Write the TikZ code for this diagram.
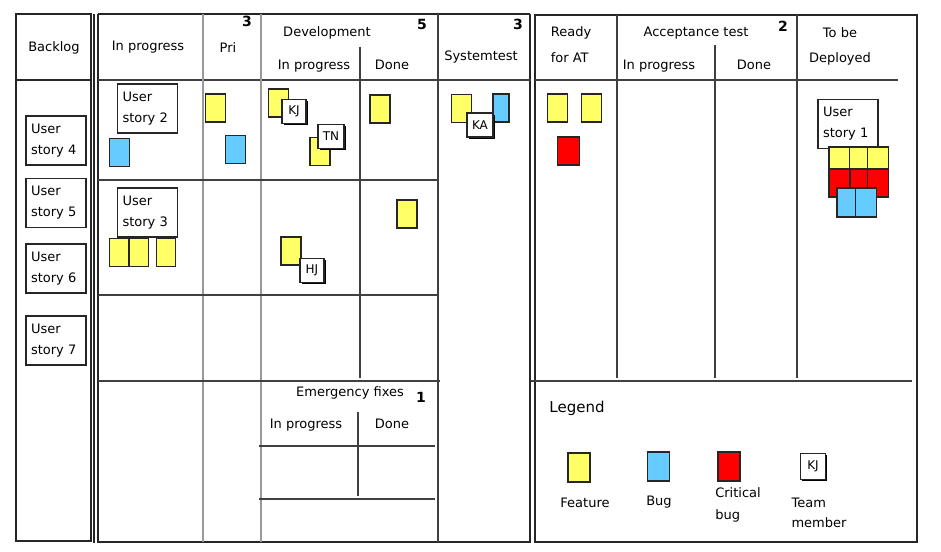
\documentclass[tikz,border=0pt]{standalone}
\usepackage{fontspec}
\setmainfont{DejaVu Sans}
\usetikzlibrary{shadows}
\definecolor{featyellow}{HTML}{FFFF66}
\definecolor{bugblue}{HTML}{66CCFF}
\definecolor{critred}{HTML}{FF0000}

\begin{document}
\begin{tikzpicture}[x=1pt,y=-1pt,
  frame/.style={line width=1.7pt,black!85},
  rule/.style={line width=1.3pt,black!75},
  lane/.style={line width=1.2pt,black!40},
  head/.style={font=\fontsize{13}{15}\selectfont,inner sep=0pt},
  wip/.style={font=\fontsize{14}{16}\selectfont\bfseries,inner sep=0pt},
  note/.style={draw=black!85,line width=1.6pt,inner sep=0pt,minimum width=20pt,minimum height=28pt},
  feature/.style={note,fill=featyellow},
  bug/.style={note,fill=bugblue},
  critbug/.style={note,fill=critred},
  member/.style={draw=black!85,fill=white,line width=1.4pt,inner sep=0pt,minimum width=24pt,minimum height=24pt,
    font=\fontsize{12}{14}\selectfont,drop shadow={shadow xshift=1.5pt,shadow yshift=-1.5pt,fill=black,opacity=1}},
  story/.style={draw=black!85,fill=white,line width=1.5pt,inner xsep=5pt,inner ysep=0pt,text width=50pt,
    minimum height=49pt,align=left,font=\fontsize{13}{21}\selectfont}]
\useasboundingbox (0,0) rectangle (941,551);

% backlog column
\draw[frame] (16,14) rectangle (91,541);
\draw[frame] (16,80) -- (91,80);
\node[head] (backlog) at (54,48) {Backlog};

% double separators
\draw[frame] (94,14) -- (94,543) (98,14) -- (98,543);
\draw[frame] (530,14) -- (530,543) (535,14) -- (535,543);

% left board
\draw[frame] (98,14) -- (530,14) (98,542) -- (530,542);
\draw[rule] (98,80) -- (530,80);
\draw[lane] (203,14) -- (203,542) (261,14) -- (261,542);
\draw[rule] (438,14) -- (438,542) (360,47) -- (360,378);
\draw[rule] (98,180) -- (438,180) (98,295) -- (438,295) (98,381) -- (440,381);
% emergency fixes lane
\draw[rule] (358,412) -- (358,496) (259,446) -- (435,446) (259,499) -- (435,499);

\node[head] (inprog) at (148,47) {In progress};
\node[head] (pri) at (228,48) {Pri};
\node[wip] (wippri) at (247,21) {3};
\node[head] (dev) at (327,33) {Development};
\node[wip] (wipdev) at (422,24) {5};
\node[head] (devprog) at (314,66) {In progress};
\node[head] (devdone) at (392,65) {Done};
\node[head] (systest) at (481,57) {Systemtest};
\node[wip] (wipsys) at (518,24) {3};
\node[head] (emerg) at (350,393) {Emergency fixes};
\node[wip] (wipemerg) at (421,397) {1};
\node[head] (emprog) at (306,425) {In progress};
\node[head] (emdone) at (392,424) {Done};

% right board
\draw[frame] (535,15) -- (917,15) -- (917,542) -- (535,542);
\draw[rule] (535,80) -- (898,80) (531,381) -- (912,381);
\draw[rule] (617,15) -- (617,378) (797,15) -- (797,378) (715,45) -- (715,378);

\node[head,align=left,font=\fontsize{13}{26}\selectfont] (ready) at (571,45) {Ready\\for AT};
\node[head] (acc) at (696,33) {Acceptance test};
\node[wip] (wipacc) at (783,26) {2};
\node[head] (accprog) at (659,66) {In progress};
\node[head] (accdone) at (754,65) {Done};
\node[head,align=center,font=\fontsize{13}{25}\selectfont] (deploy) at (840,46) {To be\\Deployed};

% user stories
\node[story] (us4) at (56,140.5) {User\\story 4};
\node[story] (us5) at (56,203) {User\\story 5};
\node[story] (us6) at (56,268.5) {User\\story 6};
\node[story] (us7) at (56,340.5) {User\\story 7};
\node[story] (us2) at (147.5,108.5) {User\\story 2};
\node[story] (us3) at (147.5,212.5) {User\\story 3};
\node[story] (us1) at (848,124) {User\\story 1};

% notes, first row
\node[bug] (b1) at (119.5,152.5) {};
\node[feature] (f1) at (215.5,108) {};
\node[bug] (b2) at (235.5,149.5) {};
\node[feature] (f2) at (278.5,103) {};
\node[member] (kj) at (294,111.5) {KJ};
\node[feature] (f3) at (320,151.5) {};
\node[member,minimum width=26pt] (tn) at (331,136.5) {TN};
\node[feature] (f4) at (380,109) {};
\node[feature] (f5) at (461.5,108.5) {};
\node[bug,minimum width=16pt] (b3) at (501,108) {};
\node[member,minimum width=26pt] (ka) at (480,125) {KA};

% notes, second row
\node[feature,minimum width=19pt] (f6) at (119,252.5) {};
\node[feature,minimum width=19pt] (f7) at (139,252.5) {};
\node[feature,minimum width=19pt] (f8) at (166,252.5) {};
\node[feature] (f9) at (291,251) {};
\node[member] (hj) at (312,270.5) {HJ};
\node[feature] (f10) at (407,214) {};

% ready for AT
\node[feature] (f11) at (557.5,108) {};
\node[feature] (f12) at (591.5,108) {};
\node[critbug,minimum width=22pt] (c1) at (568.5,151) {};

% to be deployed
\node[feature,minimum width=21pt,minimum height=23pt] (f13) at (839.5,158.5) {};
\node[feature,minimum width=18pt,minimum height=23pt] (f14) at (858.5,158.5) {};
\node[feature,minimum width=21pt,minimum height=23pt] (f15) at (878,158.5) {};
\node[critbug,minimum width=21pt] (c2) at (839.5,183) {};
\node[critbug,minimum width=18pt] (c3) at (859,183) {};
\node[critbug,minimum width=21pt] (c4) at (878,183) {};
\node[bug,minimum width=21pt,minimum height=29pt] (b4) at (847.5,202.5) {};
\node[bug,minimum width=21pt,minimum height=29pt] (b5) at (866,202.5) {};

% legend
\node[head,font=\fontsize{15}{17}\selectfont] (legend) at (577,408) {Legend};
\node[feature,minimum width=22pt,minimum height=29pt] (lf) at (579,467.5) {};
\node[bug,minimum width=22pt,minimum height=29pt] (lb) at (658.5,466.5) {};
\node[critbug,minimum width=22pt,minimum height=29pt] (lc) at (729,466.5) {};
\node[member,minimum width=25pt,minimum height=26pt] (lm) at (813,466.5) {KJ};
\node[head] (lfeat) at (585,503) {Feature};
\node[head] (lbug) at (659,502) {Bug};
\node[head,align=left,font=\fontsize{13}{22}\selectfont] (lcrit) at (738,505) {Critical\\bug};
\node[head,align=left,font=\fontsize{13}{20}\selectfont] (lteam) at (819,513) {Team\\member};
\end{tikzpicture}
\end{document}
